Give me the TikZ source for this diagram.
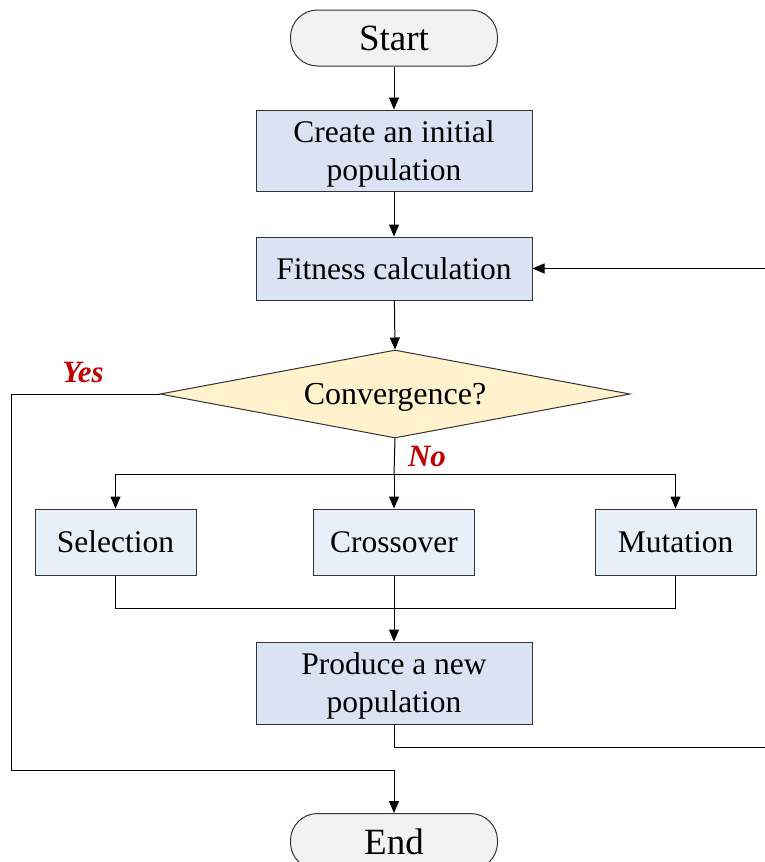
\documentclass[tikz,border=0pt]{standalone}
\usepackage{fontspec}
\setmainfont{Liberation Serif}
\usetikzlibrary{shapes.geometric,arrows.meta}
\definecolor{TermGray}{HTML}{F2F2F2}
\definecolor{ProcBlue}{HTML}{DAE3F3}
\definecolor{OpBlue}{HTML}{E7EFF9}
\definecolor{DecYellow}{HTML}{FFF2CC}
\definecolor{LabelRed}{HTML}{C00000}
\begin{document}
\begin{tikzpicture}[x=1pt,y=-1pt]
  \tikzset{TermStyle/.style = {
    shape         = rectangle,
    rounded corners = 27pt,
    draw          = black!80,
    fill          = TermGray,
    line width    = 1pt,
    text          = black,
    minimum width = 207pt,
    minimum height = 56pt,
    font          = \fontsize{37}{40}\selectfont
    }
  }
  \tikzset{ProcStyle/.style = {
    shape         = rectangle,
    draw          = black!80,
    fill          = ProcBlue,
    line width    = 1pt,
    text          = black,
    align         = center,
    text depth    = 0pt,
    minimum width = 276pt,
    font          = \fontsize{31.5}{38}\selectfont
    }
  }
  \tikzset{OpStyle/.style = {
    shape         = rectangle,
    draw          = black!80,
    fill          = OpBlue,
    line width    = 1pt,
    text          = black,
    text depth    = 0pt,
    minimum width = 161pt,
    minimum height = 66pt,
    font          = \fontsize{31.5}{35}\selectfont
    }
  }
  \tikzset{DecStyle/.style = {
    shape         = diamond,
    aspect        = 5.3,
    draw          = black!80,
    fill          = DecYellow,
    line width    = 1pt,
    inner sep     = 2pt,
    text depth    = 0pt,
    minimum width = 470pt,
    minimum height = 88pt,
    font          = \fontsize{32}{35}\selectfont
    }
  }
  \tikzset{EdgeStyle/.style = {
    draw          = black,
    line width    = 1pt,
    -{Triangle[length=12pt,width=10pt]}
    }
  }
  \tikzset{LineStyle/.style = {
    draw          = black,
    line width    = 1pt
    }
  }
  \tikzset{LabelStyle/.style = {
    text          = LabelRed,
    font          = \fontsize{31}{34}\selectfont\bfseries\itshape
    }
  }

  \useasboundingbox (0,0) rectangle (765,862);
  \clip (0,0) rectangle (765,862);

	\node[TermStyle](Start) at (394, 38) {Start};
	\node[ProcStyle, minimum height=81pt](Create) at (394, 150.5) {Create an initial\\population};
	\node[ProcStyle, minimum height=63pt](Fitness) at (394, 268.5) {Fitness calculation};
	\node[DecStyle](Conv) at (395, 394) {Convergence?};
	\node[OpStyle](Sel) at (115.5, 542) {Selection};
	\node[OpStyle](Cross) at (394, 542) {Crossover};
	\node[OpStyle](Mut) at (675.5, 542) {Mutation};
	\node[ProcStyle, minimum height=82pt](Produce) at (394, 683) {Produce a new\\population};
	\node[TermStyle](End) at (394, 841.5) {End};
	\node[LabelStyle](Yes) at (83, 372) {Yes};
	\node[LabelStyle](No) at (427, 456) {No};
	\coordinate (Split) at (394, 474);
	\coordinate (Merge) at (394, 608);
	\coordinate (LoopB) at (772, 747);
	\coordinate (YesL) at (11, 770);
	\draw[EdgeStyle](Start) to (Create);
	\draw[EdgeStyle](Create) to (Fitness);
	\draw[EdgeStyle](Fitness) to (Conv.north);
	\draw[LineStyle](Conv.south) to (Split);
	\draw[EdgeStyle](Split) -| (Sel);
	\draw[EdgeStyle](Split) to (Cross);
	\draw[EdgeStyle](Split) -| (Mut);
	\draw[LineStyle](Sel) |- (Merge);
	\draw[LineStyle](Mut) |- (Merge);
	\draw[EdgeStyle](Cross) to (Produce);
	\draw[EdgeStyle](Produce) |- (LoopB) |- (Fitness.east);
	\draw[EdgeStyle](Conv.west) -| (YesL) -| (End.north);

  \end{tikzpicture}
\end{document}
